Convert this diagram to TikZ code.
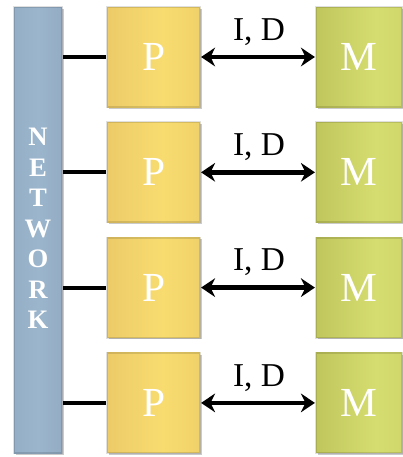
\documentclass[tikz,border=0pt]{standalone}
\usepackage{fontspec}
\setmainfont{Liberation Serif}
\usetikzlibrary{shadows,arrows.meta}
\pgfdeclarehorizontalshading{pshade}{100bp}{color(0bp)=(rgb,255:red,212;green,176;blue,88); color(25bp)=(rgb,255:red,236;green,203;blue,104); color(55bp)=(rgb,255:red,248;green,220;blue,112); color(100bp)=(rgb,255:red,230;green,196;blue,98)}
\pgfdeclarehorizontalshading{mshade}{100bp}{color(0bp)=(rgb,255:red,168;green,172;blue,72); color(25bp)=(rgb,255:red,192;green,198;blue,92); color(60bp)=(rgb,255:red,214;green,221;blue,112); color(100bp)=(rgb,255:red,200;green,206;blue,98)}
\pgfdeclarehorizontalshading{nshade}{100bp}{color(0bp)=(rgb,255:red,118;green,140;blue,162); color(15bp)=(rgb,255:red,145;green,172;blue,196); color(50bp)=(rgb,255:red,155;green,181;blue,204); color(100bp)=(rgb,255:red,140;green,164;blue,188)}
\tikzset{
  shadowed/.style={drop shadow={shadow xshift=1.2pt, shadow yshift=-1.2pt, opacity=0.35, fill=black!60}},
  bevel/.style={draw=black, draw opacity=0.12, line width=1.6pt},
  box/.style={minimum width=93*0.75pt, minimum height=100*0.75pt, inner sep=0pt,
    text=white, font=\fontsize{31}{31}\selectfont, shadowed, bevel},
  pbox/.style={box, shading=pshade},
  mbox/.style={box, minimum width=86*0.75pt, shading=mshade},
  link/.style={line width=3pt, draw=black},
  dataarrow/.style={line width=3.6pt, draw=black, {Stealth[length=10.5pt,width=14pt]}-{Stealth[length=10.5pt,width=14pt]}},
  lab/.style={font=\fontsize{25}{25}\selectfont, inner sep=0pt},
  letter/.style={text=white, font=\fontsize{20}{20}\bfseries\selectfont, inner sep=0pt}
}
\begin{document}
\begin{tikzpicture}[x=0.75pt,y=-0.75pt]
\useasboundingbox (0,0) rectangle (403,457);
\node[minimum width=48*0.75pt, minimum height=446*0.75pt, inner sep=0pt,
  shading=nshade, shadowed, bevel] (net) at (38,230) {};
\foreach \ch [count=\i from 0] in {N,E,T,W,O,R,K}
  \node[letter] (l\i) at (38,137+30.5*\i) {\ch};
\foreach \r in {1,2,3,4}{
  \pgfmathsetmacro{\yy}{57+115.3*(\r-1)}
  \node[pbox] (p\r) at (153.5,\yy) {P};
  \node[mbox] (m\r) at (359,\yy) {M};
  \draw[link] (p\r.west -| net.east) -- (p\r.west);
  \draw[dataarrow] (p\r.east) -- (m\r.west);
  \node[lab] (id\r) at (259,\yy-25) {I, D};
}
\end{tikzpicture}
\end{document}
